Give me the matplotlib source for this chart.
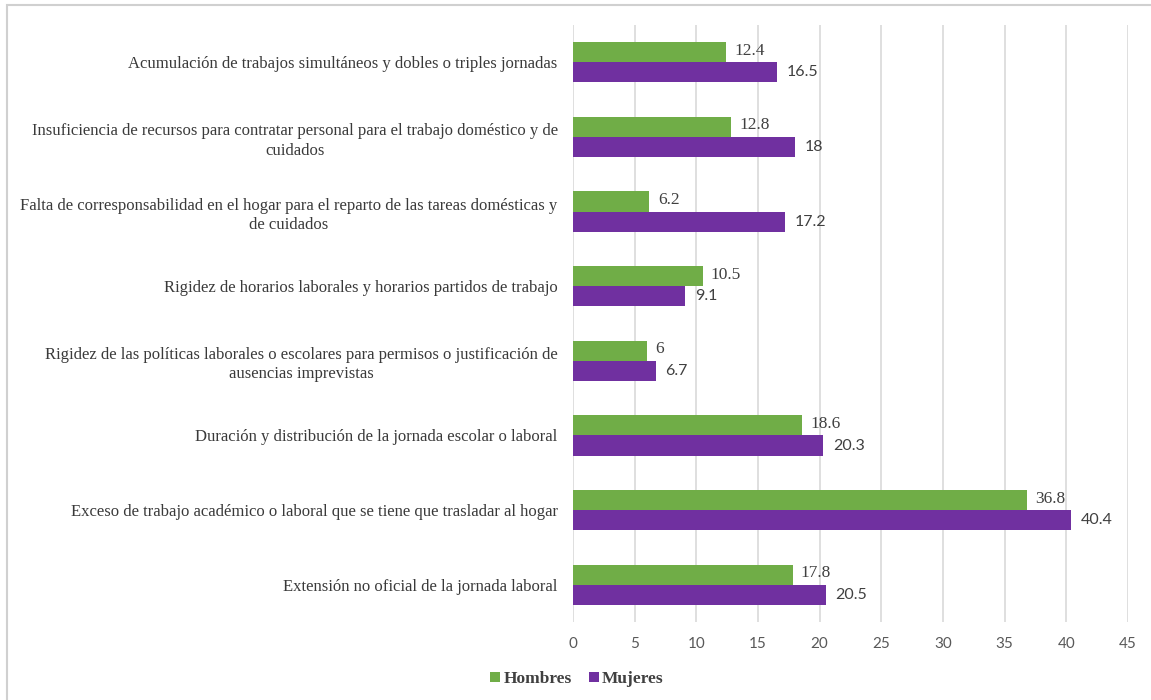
import matplotlib.pyplot as plt
from matplotlib.patches import Rectangle

categorias = [
    "Acumulación de trabajos simultáneos y dobles o triples jornadas",
    "Insuficiencia de recursos para contratar personal para el trabajo doméstico y de\ncuidados",
    "Falta de corresponsabilidad en el hogar para el reparto de las tareas domésticas y\nde cuidados",
    "Rigidez de horarios laborales y horarios partidos de trabajo",
    "Rigidez de las políticas laborales o escolares para permisos o justificación de\nausencias imprevistas",
    "Duración y distribución de la jornada escolar o laboral",
    "Exceso de trabajo académico o laboral que se tiene que trasladar al hogar",
    "Extensión no oficial de la jornada laboral",
]
hombres = [12.4, 12.8, 6.2, 10.5, 6, 18.6, 36.8, 17.8]
mujeres = [16.5, 18, 17.2, 9.1, 6.7, 20.3, 40.4, 20.5]
xticks = [0, 5, 10, 15, 20, 25, 30, 35, 40, 45]

VERDE = "#70AD47"
MORADO = "#7030A0"
SERIF = ["Liberation Serif", "DejaVu Serif"]
SANS = ["Lato", "DejaVu Sans"]

fig = plt.figure(figsize=(11.51, 7.0), dpi=100)
fig.patch.set_facecolor("white")

# light frame around the chart area
fig.add_artist(Rectangle((7 / 1151, -0.01), 1.1, 1 - 5 / 700 + 0.01,
                         transform=fig.transFigure, fill=False,
                         edgecolor="#D0D0D0", linewidth=1.5))

ax = fig.add_axes([573 / 1151, 1 - 622 / 700, (1128 - 573) / 1151, (622 - 25) / 700])

n = len(categorias)
ys = list(range(n))
h = 0.27
yh = [y - h / 2 for y in ys]
ym = [y + h / 2 for y in ys]
bh = ax.barh(yh, hombres, height=h, color=VERDE, label="Hombres", zorder=3)
bm = ax.barh(ym, mujeres, height=h, color=MORADO, label="Mujeres", zorder=3)

for y, v in zip(yh, hombres):
    ax.annotate(f"{v:g}", (v, y), xytext=(6, 1), textcoords="offset points",
                va="center", ha="left", fontsize=12.5, family=SERIF, color="#404040")
for y, v in zip(ym, mujeres):
    ax.annotate(f"{v:g}", (v, y), xytext=(7, 0), textcoords="offset points",
                va="center", ha="left", fontsize=11.5, family=SANS, color="#404040")

ax.set_ylim(n - 0.5, -0.5)
ax.set_xlim(0, 45)
ax.set_xticks(xticks)
ax.set_xticklabels([str(t) for t in xticks], family=SANS, fontsize=11, color="#595959")
ax.set_yticks(ys)
ax.set_yticklabels(categorias, family=SERIF, fontsize=12, color="#3A3A3A",
                   multialignment="center", linespacing=1.3)
ax.tick_params(axis="y", length=0, pad=11)
ax.tick_params(axis="x", length=0, pad=11)
ax.grid(axis="x", color="#D9D9D9", linewidth=1.2, zorder=0)
for s in ax.spines.values():
    s.set_visible(False)

fig.legend(handles=[bh, bm], labels=["Hombres", "Mujeres"], loc="center",
           bbox_to_anchor=(577 / 1151, 1 - 679 / 700), ncol=2, frameon=False,
           prop={"family": SERIF, "weight": "bold", "size": 12.5},
           handlelength=0.55, handleheight=0.55, handletextpad=0.2, columnspacing=1.0,
           labelcolor="#404040")

fig.savefig("out.png", dpi=100, facecolor="white")
